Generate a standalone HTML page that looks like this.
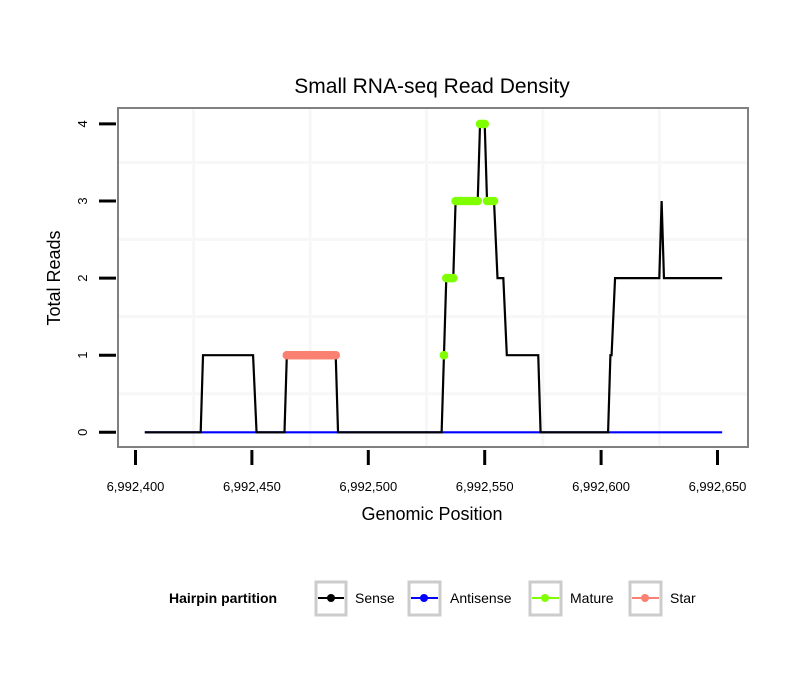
<!DOCTYPE html>
<html><head><meta charset="utf-8"><style>
body{margin:0;background:#fff}
svg text{font-family:"Liberation Sans",sans-serif}
</style></head><body>
<svg id="chart" width="810" height="690" xmlns="http://www.w3.org/2000/svg">
<rect width="810" height="690" fill="#fff"/>
<text x="432" y="93" font-size="21" text-anchor="middle">Small RNA-seq Read Density</text>
<g id="grid"></g>
<g id="marks"></g>
<rect x="118" y="108" width="630" height="339" fill="none" stroke="#808080" stroke-width="2"/>
<g id="axes"></g>
<text x="432" y="520" font-size="18" text-anchor="middle">Genomic Position</text>
<text transform="translate(60,278) rotate(-90)" font-size="18" text-anchor="middle">Total Reads</text>
<g>
<text x="169" y="603" font-size="14" font-weight="bold">Hairpin partition</text>
<g><rect x="316" y="582" width="30" height="33" fill="#fff" stroke="#ccc" stroke-width="3"/><line x1="318" y1="598" x2="344" y2="598" stroke="#000" stroke-width="2"/><circle cx="331" cy="598" r="4" fill="#000"/><text x="355" y="603" font-size="14">Sense</text></g>
<g><rect x="409" y="582" width="31" height="33" fill="#fff" stroke="#ccc" stroke-width="3"/><line x1="411" y1="598" x2="438" y2="598" stroke="#0000ff" stroke-width="2"/><circle cx="424" cy="598" r="4" fill="#0000ff"/><text x="450" y="603" font-size="14">Antisense</text></g>
<g><rect x="530" y="582" width="31" height="33" fill="#fff" stroke="#ccc" stroke-width="3"/><line x1="532" y1="598" x2="559" y2="598" stroke="#7fff00" stroke-width="2"/><circle cx="545" cy="598" r="4" fill="#7fff00"/><text x="570" y="603" font-size="14">Mature</text></g>
<g><rect x="630" y="582" width="31" height="33" fill="#fff" stroke="#ccc" stroke-width="3"/><line x1="632" y1="598" x2="659" y2="598" stroke="#fa8072" stroke-width="2"/><circle cx="645" cy="598" r="4" fill="#fa8072"/><text x="670" y="603" font-size="14">Star</text></g>
</g>
</svg>
<script>
const BASE = 6992400;
const xTicks = [6992400, 6992450, 6992500, 6992550, 6992600, 6992650];
const xTickLabels = ["6,992,400","6,992,450","6,992,500","6,992,550","6,992,600","6,992,650"];
const yTicks = [0,1,2,3,4];
const senseX = [6992404,6992428,6992429,6992450.5,6992452,6992464,6992465,6992486,6992487,6992531.5,6992532.5,6992533.5,6992536.5,6992537.5,6992547,6992548,6992550,6992551,6992554,6992555.5,6992558,6992559.5,6992573,6992574,6992603,6992604,6992604.5,6992606,6992625,6992626,6992627,6992652];
const senseY = [0,0,1,1,0,0,1,1,0,0,1,2,2,3,3,4,4,3,3,2,2,1,1,0,0,1,1,2,2,3,2,2];
const antisenseX = [6992404,6992652];
const antisenseY = [0,0];
const matureX = [6992532.5,6992533.5,6992534.5,6992535.5,6992536.5,6992537.5,6992538.5,6992539.5,6992540.5,6992541.5,6992542.5,6992543.5,6992544.5,6992545.5,6992546.5,6992547,6992548,6992549,6992550,6992551,6992552,6992553,6992554];
const matureY = [1,2,2,2,2,3,3,3,3,3,3,3,3,3,3,3,4,4,4,3,3,3,3];
const starX = [6992465,6992466,6992467,6992468,6992469,6992470,6992471,6992472,6992473,6992474,6992475,6992476,6992477,6992478,6992479,6992480,6992481,6992482,6992483,6992484,6992485,6992486];
const starY = [1,1,1,1,1,1,1,1,1,1,1,1,1,1,1,1,1,1,1,1,1,1];

const NS="http://www.w3.org/2000/svg";
function xs(p){return 135.5+(p-BASE)*2.328;}
function ys(v){return 432.3-v*77.1;}
function mk(tag,attrs,parent){const e=document.createElementNS(NS,tag);for(const k in attrs)e.setAttribute(k,attrs[k]);parent.appendChild(e);return e;}
const grid=document.getElementById('grid'),marks=document.getElementById('marks'),axes=document.getElementById('axes');
for(let i=0;i<xTicks.length-1;i++){
  const m=(xTicks[i]+xTicks[i+1])/2;
  const g2=mk('line',{x1:xs(m),x2:xs(m),y1:109,y2:446,stroke:'#f7f7f7','stroke-width':3},grid);
  
  
}
for(let i=0;i<yTicks.length-1;i++){
  const m=(yTicks[i]+yTicks[i+1])/2;
  const g2=mk('line',{x1:119,x2:747,y1:ys(m),y2:ys(m),stroke:'#f7f7f7','stroke-width':3},grid);
  
  
}
for(let i=0;i<xTicks.length;i++){
  const t=mk('line',{x1:xs(xTicks[i]),x2:xs(xTicks[i]),y1:450,y2:465,stroke:'#000','stroke-width':3},axes);
  
  
  const l=mk('text',{x:xs(xTicks[i]),y:491,'font-size':13,'text-anchor':'middle'},axes);
  l.textContent=xTickLabels[i];
  
  
}
for(let i=0;i<yTicks.length;i++){
  const t=mk('line',{x1:99,x2:116,y1:ys(yTicks[i]),y2:ys(yTicks[i]),stroke:'#000','stroke-width':3},axes);
  
  
  const l=mk('text',{transform:`translate(87,${ys(yTicks[i])}) rotate(-90)`,'font-size':13,'text-anchor':'middle'},axes);
  l.textContent=String(yTicks[i]);
  
  
}
function path(X,Y){return X.map((x,i)=>(i?'L':'M')+xs(x)+','+ys(Y[i])).join(' ');}
const a=mk('path',{d:path(antisenseX,antisenseY),fill:'none',stroke:'#0000ff','stroke-width':2.2},marks);


const s=mk('path',{d:path(senseX,senseY),fill:'none',stroke:'#000','stroke-width':2.2},marks);


for(let i=0;i<starX.length;i++){
  const c=mk('circle',{cx:xs(starX[i]),cy:ys(starY[i]),r:4.3,fill:'#fa8072'},marks);
  
  
}
for(let i=0;i<matureX.length;i++){
  const c=mk('circle',{cx:xs(matureX[i]),cy:ys(matureY[i]),r:4.3,fill:'#7fff00'},marks);
  
  
}
</script>
</body></html>
